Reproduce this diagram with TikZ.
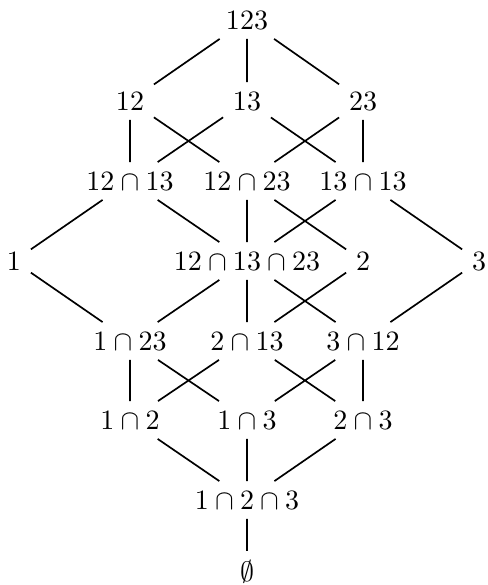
\documentclass[tikz,border=0pt]{standalone}
\begin{document}
\begin{tikzpicture}[x=0.357pt,y=-0.357pt, lat/.style={draw=none}, edge/.style={draw=black, line width=0.6pt}]
\useasboundingbox (0,0) rectangle (487,585);
\node[lat] (a123) at (247,20) {$123$};
\node[lat] (a12) at (130,101) {$12$};
\node[lat] (a13) at (247,101) {$13$};
\node[lat] (a23) at (363,101) {$23$};
\node[lat] (b1213) at (130,181) {$12\cap 13$};
\node[lat] (b1223) at (247,181) {$12\cap 23$};
\node[lat] (b1313) at (363,181) {$13\cap 13$};
\node[lat] (c1) at (14,261) {$1$};
\node[lat] (c121323) at (247,261) {$12\cap 13\cap 23$};
\node[lat] (c2) at (363,261) {$2$};
\node[lat] (c3) at (479,261) {$3$};
\node[lat] (d123) at (130,341) {$1\cap 23$};
\node[lat] (d213) at (247,341) {$2\cap 13$};
\node[lat] (d312) at (363,341) {$3\cap 12$};
\node[lat] (e12) at (130,420) {$1\cap 2$};
\node[lat] (e13) at (247,420) {$1\cap 3$};
\node[lat] (e23) at (363,420) {$2\cap 3$};
\node[lat] (f123) at (247,500) {$1\cap 2\cap 3$};
\node[lat] (g) at (247,572) {$\emptyset$};
\path[edge]
 (a123) -- (a12) (a123) -- (a13) (a123) -- (a23)
 (a12) -- (b1213) (a12) -- (b1223) (a13) -- (b1213) (a13) -- (b1313) (a23) -- (b1223) (a23) -- (b1313)
 (b1213) -- (c1) (b1213) -- (c121323) (b1223) -- (c121323) (b1223) -- (c2) (b1313) -- (c121323) (b1313) -- (c3)
 (c1) -- (d123) (c121323) -- (d123) (c121323) -- (d213) (c121323) -- (d312) (c2) -- (d213) (c3) -- (d312)
 (d123) -- (e12) (d123) -- (e13) (d213) -- (e12) (d213) -- (e23) (d312) -- (e13) (d312) -- (e23)
 (e12) -- (f123) (e13) -- (f123) (e23) -- (f123)
 (f123) -- (g);
\end{tikzpicture}
\end{document}
